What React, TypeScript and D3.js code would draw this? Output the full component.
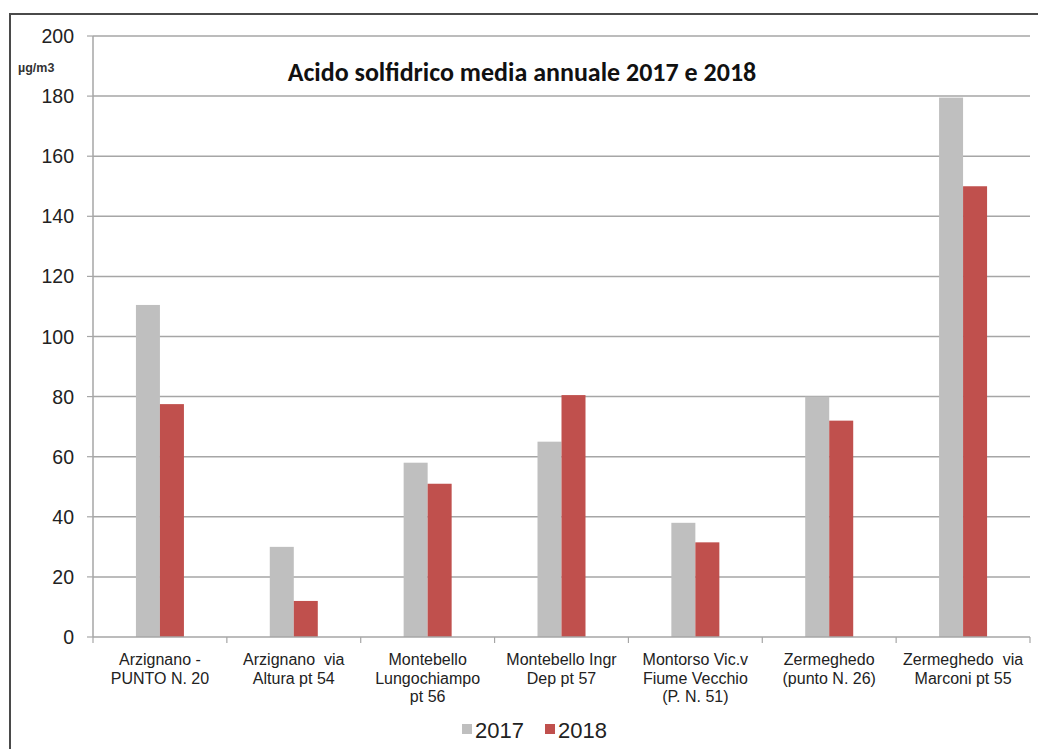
import React from "react";
import * as d3 from "d3";

const categories = [
  ["Arzignano -", "PUNTO N. 20"],
  ["Arzignano  via", "Altura pt 54"],
  ["Montebello", "Lungochiampo", "pt 56"],
  ["Montebello Ingr", "Dep pt 57"],
  ["Montorso Vic.v", "Fiume Vecchio", "(P. N. 51)"],
  ["Zermeghedo", "(punto N. 26)"],
  ["Zermeghedo  via", "Marconi pt 55"],
];
const values2017 = [110.5, 30, 58, 65, 38, 80, 179.5];
const values2018 = [77.5, 12, 51, 80.5, 31.5, 72, 150];
const yTicks = [0, 20, 40, 60, 80, 100, 120, 140, 160, 180, 200];
const seriesNames = ["2017", "2018"];
const colors = ["#bfbfbf", "#c0504d"];

export default function App() {
  const W = 1038, H = 749;
  const left = 93, right = 1030, top = 36, bottom = 637;
  const x = d3.scaleBand<number>().domain(d3.range(categories.length)).range([left, right]).paddingInner(0).paddingOuter(0);
  const y = d3.scaleLinear().domain([0, 200]).range([bottom, top]);
  const bw = 24;
  const series = [values2017, values2018];
  return (
    <svg width={W} height={H} style={{ position: "absolute", left: 0, top: 0, background: "#fff" }}>
      <rect x={0} y={0} width={W} height={H} fill="#fff" />
      <path d={`M10,${H + 2} L10,14 L${W + 2},14`} fill="none" stroke="#4a4a4a" strokeWidth={2} />
      {yTicks.map((t) => (
        <g key={t}>
          {t > 0 && <line x1={left} x2={right} y1={y(t)} y2={y(t)} stroke="#a6a6a6" strokeWidth={1.5} />}
          <line x1={left - 6} x2={left} y1={y(t)} y2={y(t)} stroke="#a6a6a6" strokeWidth={1.2} />
          <text x={74} y={y(t)} dy="0.36em" textAnchor="end" fontFamily="Liberation Sans, Arial, sans-serif" fontSize={19.5} fill="#222">{t}</text>
        </g>
      ))}
      <line x1={left} x2={left} y1={top} y2={bottom} stroke="#a6a6a6" strokeWidth={1.5} />
      {series.map((vals, si) =>
        vals.map((v, i) => {
          const cx = (x(i) as number) + x.bandwidth() / 2;
          return (
            <rect key={`${si}-${i}`} x={cx - bw + si * bw} y={y(v)} width={bw} height={y(0) - y(v)} fill={colors[si]} />
          );
        })
      )}
      <line x1={left} x2={right} y1={bottom} y2={bottom} stroke="#a6a6a6" strokeWidth={1.5} />
      {d3.range(categories.length + 1).map((i) => {
        const xx = left + i * x.bandwidth();
        return <line key={i} x1={xx} x2={xx} y1={bottom} y2={bottom + 6} stroke="#a6a6a6" strokeWidth={1.2} />;
      })}
      {categories.map((lines, i) => {
        const cx = (x(i) as number) + x.bandwidth() / 2;
        return (
          <text key={i} textAnchor="middle" fontFamily="Liberation Sans, Arial, sans-serif" fontSize={16} fill="#222" style={{ whiteSpace: "pre" }}>
            {lines.map((l, j) => (
              <tspan key={j} x={cx} y={665 + j * 18.7}>{l}</tspan>
            ))}
          </text>
        );
      })}
      <text x={522} y={81} textAnchor="middle" fontFamily="Carlito, Lato, 'Open Sans', sans-serif" fontWeight="bold" fontSize={26} fill="#111">Acido solfidrico media annuale 2017 e 2018</text>
      <text x={18} y={72} fontFamily="Liberation Sans, Arial, sans-serif" fontSize={12.5} fontWeight="bold" fill="#333">µg/m3</text>
      {seriesNames.map((n, i) => (
        <g key={n}>
          <rect x={462 + i * 83} y={724} width={10} height={10} fill={colors[i]} />
          <text x={475 + i * 83} y={738} fontFamily="Liberation Sans, Arial, sans-serif" fontSize={22} fill="#222">{n}</text>
        </g>
      ))}
    </svg>
  );
}
